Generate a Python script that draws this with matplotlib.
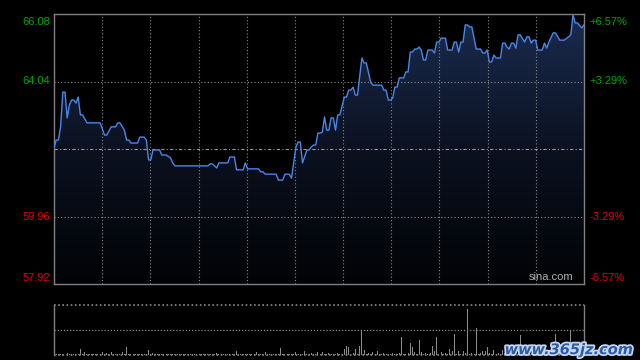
import numpy as np
import matplotlib
matplotlib.use("Agg")
import matplotlib.pyplot as plt
from matplotlib.patches import PathPatch
from matplotlib.colors import LinearSegmentedColormap
import matplotlib.patheffects as pe

# minute index (0 = 9:30 ... 241 = 15:00) and price at the line's vertices
minutes = [0, 1, 2, 3, 4, 5, 6, 7, 8, 9, 10, 11, 12, 13, 15, 21, 23, 24, 26, 28,
           29, 30, 32, 33, 34, 35, 38, 39, 41, 42, 43, 44, 45, 48, 49, 51, 53, 54, 55, 70,
           71, 72, 74, 75, 79, 80, 82, 83, 86, 87, 88, 93, 94, 95, 96, 101, 102, 104, 105, 107,
           108, 110, 111, 112, 113, 115, 116, 117, 118, 119, 120, 121, 122, 123, 124, 125, 126, 127, 128, 129,
           130, 132, 133, 134, 135, 136, 137, 138, 140, 141, 142, 144, 145, 149, 150, 151, 152, 153, 154, 155,
           156, 157, 159, 160, 161, 162, 163, 164, 165, 166, 167, 168, 169, 170, 172, 173, 174, 175, 176, 178,
           179, 181, 182, 183, 184, 185, 186, 187, 188, 189, 190, 192, 194, 195, 196, 197, 198, 199, 200, 201,
           203, 204, 205, 206, 207, 208, 209, 210, 211, 212, 214, 215, 216, 217, 218, 219, 220, 222, 223, 224,
           225, 227, 228, 230, 232, 234, 235, 236, 237, 238, 240, 241]
prices = [62.03, 62.27, 62.27, 62.67, 63.72, 63.72, 62.94, 63.33, 63.48, 63.48, 63.39, 63.57, 63.03, 63.03, 62.79, 62.79, 62.42, 62.42, 62.67, 62.67,
          62.79, 62.79, 62.57, 62.27, 62.27, 62.18, 62.18, 62.36, 62.36, 62.27, 61.67, 61.67, 61.97, 61.97, 61.82, 61.82, 61.73, 61.58, 61.49, 61.49,
          61.55, 61.55, 61.43, 61.58, 61.58, 61.76, 61.76, 61.37, 61.37, 61.58, 61.40, 61.40, 61.31, 61.31, 61.24, 61.24, 61.06, 61.06, 61.24, 61.24,
          61.12, 62.06, 62.21, 62.21, 61.58, 61.97, 61.97, 62.06, 62.12, 62.12, 62.48, 62.48, 62.51, 62.97, 62.57, 62.57, 62.94, 62.94, 62.57, 63.03,
          63.03, 63.57, 63.57, 63.78, 63.78, 63.87, 63.63, 63.63, 64.75, 64.60, 64.60, 64.02, 63.93, 63.93, 63.78, 63.78, 63.48, 63.48, 63.54, 63.87,
          63.87, 64.15, 64.15, 64.33, 64.33, 64.93, 64.93, 65.02, 65.02, 65.08, 64.99, 64.69, 64.69, 64.99, 64.99, 64.90, 65.23, 65.23, 65.35, 65.35,
          64.99, 64.99, 65.23, 65.23, 64.93, 65.23, 65.23, 65.75, 65.75, 65.69, 65.69, 65.02, 65.02, 64.90, 64.90, 64.99, 64.63, 64.63, 64.84, 64.75,
          64.75, 65.20, 65.20, 65.08, 65.02, 65.20, 65.20, 65.05, 65.45, 65.45, 65.23, 65.39, 65.39, 65.20, 65.29, 65.29, 64.99, 64.99, 65.20, 65.05,
          65.23, 65.51, 65.51, 65.29, 65.29, 65.39, 65.45, 66.05, 65.81, 65.81, 65.66, 65.75]

# volume per minute (arbitrary units, panel top = 100)
volume = [3, 2, 2, 2, 1, 2, 3, 2, 2, 2,
          2, 2, 12, 2, 5, 2, 1, 2, 2, 1,
          2, 2, 5, 2, 4, 2, 5, 2, 2, 1,
          2, 5, 2, 15, 2, 2, 1, 2, 2, 2,
          1, 2, 2, 9, 2, 3, 2, 1, 2, 2,
          2, 1, 2, 2, 2, 1, 2, 2, 1, 2,
          2, 1, 2, 2, 1, 2, 2, 1, 2, 2,
          1, 2, 2, 2, 3, 2, 1, 2, 2, 1,
          2, 2, 2, 8, 2, 1, 2, 2, 2, 1,
          2, 2, 5, 2, 1, 2, 5, 2, 2, 1,
          2, 2, 2, 13, 2, 1, 2, 2, 2, 2,
          5, 2, 2, 2, 8, 2, 2, 3, 2, 2,
          5, 2, 5, 2, 2, 3, 2, 2, 2, 3,
          2, 2, 12, 17, 15, 2, 3, 12, 2, 17,
          49, 9, 2, 3, 2, 5, 2, 8, 2, 2,
          3, 2, 2, 2, 3, 2, 2, 3, 35, 2,
          2, 3, 23, 15, 5, 2, 29, 5, 2, 3,
          2, 3, 17, 8, 35, 2, 5, 2, 3, 2,
          11, 8, 41, 2, 8, 2, 8, 3, 91, 2,
          3, 2, 53, 2, 3, 7, 8, 15, 3, 2,
          9, 2, 3, 2, 9, 3, 2, 5, 2, 3,
          2, 3, 39, 2, 3, 2, 5, 3, 2, 4,
          15, 2, 3, 12, 2, 3, 2, 3, 41, 2,
          3, 2, 10, 2, 3, 49, 100, 2, 7, 3,
          2, 3]

prev_close = 62.00
price_ticks = [57.92, 59.96, 62.00, 64.04, 66.08]
left_labels = ["57.92", "59.96", "", "64.04", "66.08"]
right_labels = ["-6.57%", "-3.29%", "", "+3.29%", "+6.57%"]

GREEN = "#00a800"
RED = "#e00000"
GRID = "#8a8a8a"
FRAME = "#808080"

fig = plt.figure(figsize=(6.4, 3.6), dpi=100, facecolor="black")
ax = fig.add_axes([54 / 640, 76 / 360, 530 / 640, 270 / 360])
axv = fig.add_axes([54 / 640, 5.3 / 360, 530 / 640, 50 / 360])

ax.set_facecolor("black")
ax.set_xlim(0, 241)
ax.set_ylim(price_ticks[0], price_ticks[-1])

# gradient area under the line
poly = ax.fill_between(minutes, prices, price_ticks[0], color="none", lw=0)
cmap = LinearSegmentedColormap.from_list("fill", ["#020305", "#0b1120", "#1b2c50"])
grad = np.linspace(0, 1, 256).reshape(-1, 1)
img = ax.imshow(grad, extent=[0, 241, price_ticks[0], price_ticks[-1]], origin="lower",
                aspect="auto", cmap=cmap, zorder=1)
clip = PathPatch(poly.get_paths()[0], transform=ax.transData, facecolor="none", edgecolor="none")
ax.add_patch(clip)
img.set_clip_path(clip)

ax.plot(minutes, prices, color="#4a86e8", lw=1.0, zorder=3)

# grid
for gx in np.linspace(0, 241, 12)[1:-1]:
    ax.axvline(gx, color=GRID, lw=0.8, ls=(0, (1, 2)), zorder=2)
for gy in [59.96, 64.04]:
    ax.axhline(gy, color=GRID, lw=0.8, ls=(0, (1, 2)), zorder=2)
ax.axhline(prev_close, color="#9a9a9a", lw=0.8, ls=(0, (3, 2, 1, 2)), zorder=2)

ax.set_xticks([])
ax.set_yticks([])
for s in ax.spines.values():
    s.set_color(FRAME)
    s.set_linewidth(1.0)

ytr = ax.get_yaxis_transform()
for p, ll, rl in zip(price_ticks, left_labels, right_labels):
    if not ll:
        continue
    col = GREEN if p > prev_close else RED
    va = "center"
    dy = 0
    if p == price_ticks[-1]:
        va, dy = "top", -0.08
    elif p == price_ticks[0]:
        va, dy = "bottom", 0.04
    ax.text(-0.007, p + dy, ll, transform=ytr, ha="right", va=va, color=col,
            fontsize=8, family="Liberation Sans")
    ax.text(1.011, p + dy, rl, transform=ytr, ha="left", va=va, color=col,
            fontsize=8, family="Liberation Sans")

ax.text(0.979, 0.006, "sina.com", transform=ax.transAxes, ha="right", va="bottom",
        color="#b0b0b0", fontsize=8, family="Liberation Sans")

# volume panel
axv.set_facecolor("black")
axv.bar(range(len(volume)), volume, width=0.45, color="#8c8c8c", lw=0)
axv.set_xlim(0, 241)
axv.set_ylim(0, 100)
axv.set_xticks([])
axv.set_yticks([])
axv.axhline(50, color=GRID, lw=0.9, ls=(0, (1, 1.5)))
for side in ["top", "bottom"]:
    axv.spines[side].set_visible(False)
axv.axhline(100, color=GRID, lw=1.2, ls=(0, (1, 1.5)), clip_on=False)
axv.axhline(0, color=GRID, lw=1.2, ls=(0, (1, 1.5)), clip_on=False)
for side in ["left", "right"]:
    axv.spines[side].set_color(FRAME)
    axv.spines[side].set_linewidth(1.0)

# watermark
fig.text(0.989, 0.008, "www.365jz.com", ha="right", va="bottom", color="#2a5caa",
         fontsize=10.5, fontweight="bold", family="DejaVu Sans", fontstyle="italic",
         path_effects=[pe.withStroke(linewidth=2.5, foreground="#c8d6ee")])

fig.savefig("out.png", dpi=100, facecolor="black")
